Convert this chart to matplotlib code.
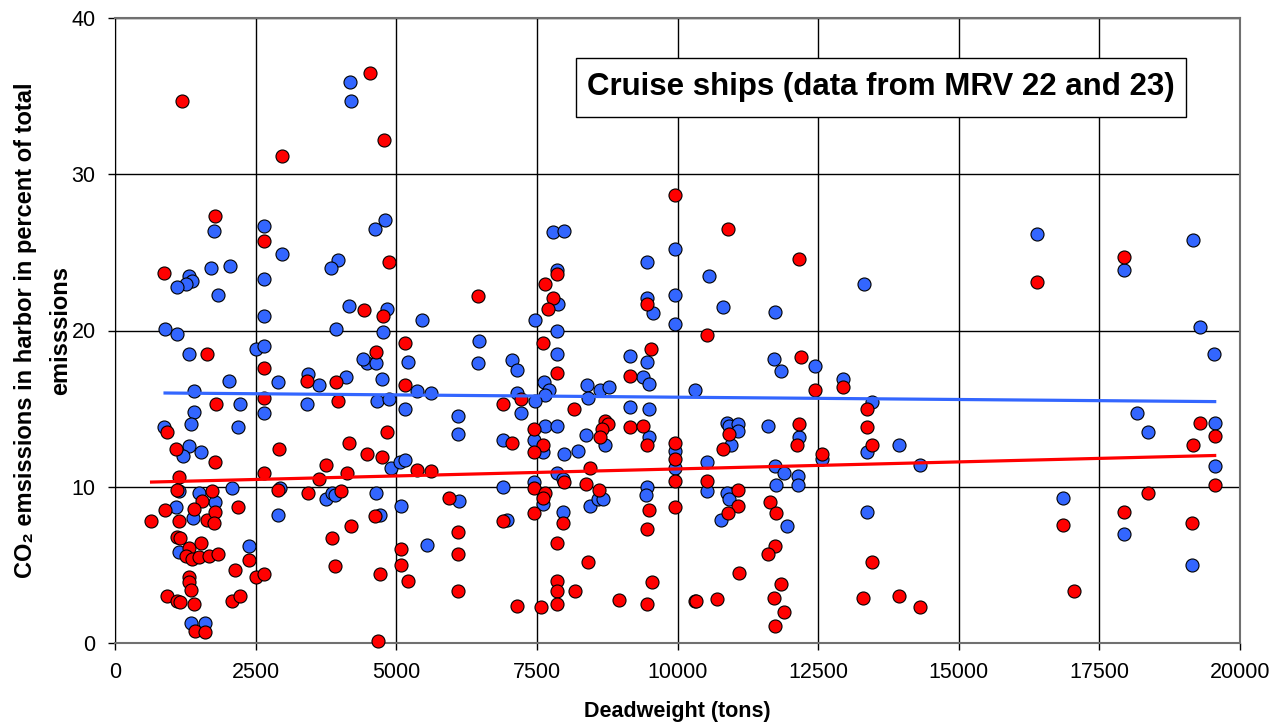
import matplotlib
matplotlib.use('Agg')
import matplotlib.pyplot as plt
from matplotlib.patches import Rectangle

# deadweight (tons) and CO2 share in harbor (%)
blue_x = [4178, 4196, 1754, 2655, 2964, 4795, 4628, 3971, 3846, 1316, 1364, 1262, 1097, 1712, 2039,
          1831, 2655, 2655, 4155, 4830, 4771, 3935, 889, 1097, 1316, 2501, 2655, 2027, 1405, 2228,
          2655, 1405, 1346, 2187, 871, 1316, 1203, 1529, 1138, 1499, 1778, 2086, 1085, 1393, 2388,
          1138, 1346, 1600, 4474, 4415, 4635, 5215, 2904, 3437, 3621, 4113, 4753, 3419, 4664, 4877,
          5156, 4907, 5067, 5156, 2934, 3746, 3852, 3911, 4635, 5085, 2904, 4712, 7783, 7989, 9963,
          9465, 5464, 7853, 7871, 7462, 7853, 9465, 9560, 9963, 9963, 6472, 6454, 7053, 7153, 7853,
          9157, 9453, 9393, 9494, 5364, 5613, 7141, 7627, 7716, 7645, 7468, 7219, 8387, 8624, 8777,
          8405, 9157, 9494, 10315, 6104, 6104, 7639, 7853, 8369, 8712, 9500, 6904, 7455, 7615, 7989,
          8238, 9963, 9963, 7853, 7971, 7455, 7615, 6904, 6116, 8446, 8594, 8671, 9465, 9441, 7971,
          6963, 5553, 10561, 10805, 11735, 13311, 11717, 11837, 12452, 12939, 13454, 13376, 13945, 14313, 10876,
          10922, 11082, 11082, 10953, 11604, 12161, 12576, 10520, 11735, 11900, 12150, 12150, 11753, 10520, 10876,
          10917, 10769, 11953, 13376, 16393, 17935, 19168, 19285, 19534, 18177, 18361, 19551, 19551, 16847, 17929,
          19144]
blue_y = [35.9, 34.7, 26.4, 26.7, 24.9, 27.1, 26.5, 24.5, 24.0, 23.5, 23.2, 23.0, 22.8, 24.0, 24.1,
          22.3, 23.3, 20.9, 21.6, 21.4, 19.9, 20.1, 20.1, 19.8, 18.5, 18.8, 19.0, 16.8, 16.1, 15.3,
          14.7, 14.8, 14.0, 13.8, 13.8, 12.6, 12.0, 12.2, 9.7, 9.6, 9.0, 9.9, 8.7, 8.0, 6.2,
          5.8, 1.3, 1.3, 17.9, 18.2, 17.9, 18.0, 16.7, 17.2, 16.5, 17.0, 16.9, 15.3, 15.5, 15.6,
          15.0, 11.2, 11.6, 11.7, 9.9, 9.2, 9.6, 9.5, 9.6, 8.8, 8.2, 8.2, 26.3, 26.4, 25.2,
          24.4, 20.7, 23.9, 21.7, 20.7, 20.0, 22.1, 21.1, 22.3, 20.4, 19.3, 17.9, 18.1, 17.5, 18.5,
          18.4, 18.0, 17.0, 16.6, 16.1, 16.0, 16.0, 16.7, 16.2, 15.9, 15.5, 14.7, 16.5, 16.2, 16.4,
          15.7, 15.1, 15.0, 16.2, 14.5, 13.4, 13.9, 13.9, 13.3, 12.7, 13.2, 13.0, 13.0, 12.2, 12.1,
          12.3, 12.3, 11.2, 10.9, 10.5, 10.3, 8.9, 10.0, 9.1, 8.8, 9.2, 9.2, 10.0, 9.5, 8.4,
          7.9, 6.3, 23.5, 21.5, 21.2, 23.0, 18.2, 17.4, 17.7, 16.9, 15.4, 12.2, 12.7, 11.4, 14.1,
          13.9, 14.0, 13.6, 12.7, 13.9, 13.2, 11.8, 11.6, 11.3, 10.9, 10.7, 10.1, 10.1, 9.75, 9.6,
          9.2, 7.9, 7.5, 8.4, 26.2, 23.9, 25.8, 20.25, 18.5, 14.7, 13.5, 14.1, 11.3, 9.3, 7.0,
          5.0]

red_x = [1197, 4528, 4789, 2964, 1772, 2655, 4872, 871, 4427, 4771, 5156, 1630, 2655, 1790, 2655,
         919, 1079, 1778, 1138, 1097, 1719, 1553, 2187, 889, 1405, 640, 1138, 1630, 1772, 1760,
         1097, 1156, 1316, 1523, 1262, 1364, 1499, 1666, 1837, 2388, 2139, 2501, 2655, 1321, 1321,
         1346, 919, 1097, 1156, 1405, 2080, 2228, 1422, 1600, 4670, 4635, 3419, 3929, 5156, 3971,
         4830, 4155, 4486, 4753, 2911, 2655, 3746, 3627, 4119, 2904, 3437, 4013, 4628, 4196, 3852,
         3911, 4712, 5085, 5085, 5215, 9963, 6454, 7853, 7645, 7783, 7705, 9465, 7604, 7853, 9524,
         9157, 7212, 6904, 8168, 7455, 8712, 8771, 8653, 8624, 9157, 9393, 9465, 7053, 7604, 7455,
         9963, 9963, 9963, 5364, 5613, 8446, 7989, 8369, 8611, 7455, 7645, 7615, 5944, 9500, 9963,
         7455, 7971, 6904, 6104, 6104, 7853, 8405, 9465, 6104, 7853, 7853, 7853, 8180, 9553, 7153,
         7568, 8955, 9453, 10315, 10893, 12161, 10520, 12203, 12452, 12939, 13376, 13376, 13454, 10917, 10805,
         12161, 12132, 12576, 10520, 11082, 11082, 10893, 11646, 11753, 11735, 11604, 11094, 11837, 11717, 11900,
         11735, 10330, 10709, 13454, 13305, 13945, 14313, 16393, 17935, 19285, 19551, 19161, 19551, 16847, 17055,
         18361, 17929, 19144]
red_y = [34.7, 36.5, 32.2, 31.2, 27.3, 25.7, 24.4, 23.7, 21.3, 20.9, 19.2, 18.5, 17.6, 15.3, 15.7,
         13.5, 12.4, 11.6, 10.6, 9.8, 9.7, 9.1, 8.7, 8.5, 8.6, 7.8, 7.8, 7.9, 8.4, 7.7,
         6.8, 6.7, 6.1, 6.4, 5.6, 5.4, 5.5, 5.6, 5.7, 5.3, 4.7, 4.2, 4.4, 4.2, 3.9,
         3.4, 3.0, 2.7, 2.6, 2.5, 2.7, 3.0, 0.8, 0.7, 0.1, 18.6, 16.8, 16.7, 16.5, 15.5,
         13.5, 12.8, 12.1, 11.9, 12.4, 10.9, 11.4, 10.5, 10.9, 9.8, 9.6, 9.7, 8.1, 7.5, 6.7,
         4.9, 4.4, 6.0, 5.0, 4.0, 28.7, 22.2, 23.6, 23.0, 22.1, 21.4, 21.7, 19.2, 17.3, 18.8,
         17.1, 15.6, 15.3, 15.0, 13.7, 14.2, 14.0, 13.7, 13.2, 13.8, 13.9, 12.7, 12.8, 12.7, 12.2,
         12.8, 11.8, 10.4, 11.1, 11.0, 11.2, 10.3, 10.2, 9.8, 9.9, 9.6, 9.3, 9.3, 8.5, 8.7,
         8.3, 7.7, 7.8, 7.1, 5.7, 6.4, 5.2, 7.3, 3.3, 4.0, 3.3, 2.5, 3.3, 3.9, 2.4,
         2.3, 2.75, 2.5, 2.7, 26.5, 24.6, 19.7, 18.3, 16.2, 16.4, 15.0, 13.8, 12.7, 13.4, 12.4,
         14.0, 12.7, 12.1, 10.4, 9.8, 8.8, 8.3, 9.0, 8.3, 6.2, 5.7, 4.5, 3.8, 2.9, 2.0,
         1.1, 2.7, 2.8, 5.2, 2.9, 3.0, 2.3, 23.1, 24.7, 14.1, 13.25, 12.7, 10.1, 7.55, 3.35,
         9.6, 8.4, 7.7]

# linear trend lines as drawn in the chart (end points)
blue_trend_x = [890, 19550]
blue_trend_y = [16.0, 15.45]
red_trend_x = [650, 19550]
red_trend_y = [10.3, 12.0]

xticks = [0, 2500, 5000, 7500, 10000, 12500, 15000, 17500, 20000]
yticks = [0, 10, 20, 30, 40]
title = 'Cruise ships (data from MRV 22 and 23)'

BLUE = '#3366FF'
RED = '#FF0000'
fam = ['Liberation Sans', 'DejaVu Sans']
plt.rcParams['font.family'] = fam

fig = plt.figure(figsize=(12.74, 7.24), dpi=100)
ax = fig.add_axes([115 / 1274, 1 - 643 / 724, 1125 / 1274, 625 / 724])

ax.scatter(blue_x, blue_y, s=88, c=BLUE, edgecolors='black', linewidths=0.8, zorder=3, clip_on=False)
ax.scatter(red_x, red_y, s=88, c=RED, edgecolors='black', linewidths=0.8, zorder=4, clip_on=False)
ax.plot(blue_trend_x, blue_trend_y, color=BLUE, lw=2.3, zorder=5)
ax.plot(red_trend_x, red_trend_y, color=RED, lw=2.3, zorder=5)

ax.set_xlim(0, 20000)
ax.set_ylim(0, 40)
ax.set_xticks(xticks)
ax.set_yticks(yticks)
ax.tick_params(axis='both', direction='out', length=5, width=1, labelsize=15.5, pad=9, colors='black')
ax.grid(True, color='black', lw=1.0)
ax.set_axisbelow(True)
for side in ['top', 'right', 'bottom']:
    ax.spines[side].set_color('#707070')
    ax.spines[side].set_linewidth(1.5)
ax.spines['left'].set_color('black')

ax.set_xlabel('Deadweight (tons)', fontsize=15.5, fontweight='bold', labelpad=13)
ax.set_ylabel('CO\u2082 emsissions in harbor in percent of total\nemisssions',
              fontsize=17, fontweight='bold', linespacing=1.7)
ax.yaxis.set_label_coords(-0.038, 0.5)

# title box
ax.add_patch(Rectangle((0.4095, 0.842), 0.5422, 0.0935, transform=ax.transAxes,
                       facecolor='white', edgecolor='black', lw=1.0, zorder=6))
ax.text(0.681, 0.889, title, transform=ax.transAxes, ha='center', va='center',
        fontsize=22.5, fontweight='bold', zorder=7)

fig.savefig('out.png', dpi=100)
